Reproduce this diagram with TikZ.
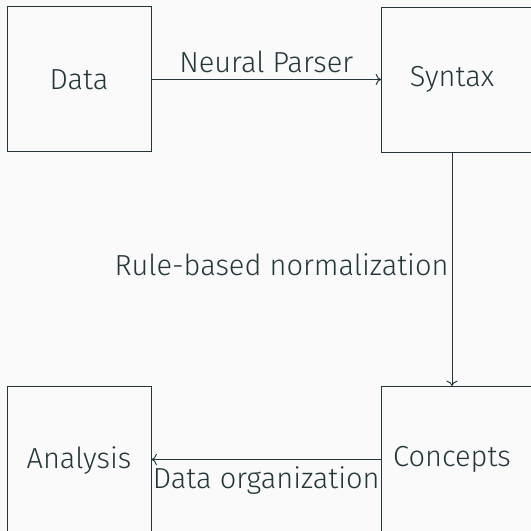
\documentclass[tikz,border=0pt]{standalone}
\usepackage{fontspec}
\setmainfont{Fira Sans}[UprightFont=* Light]
\usetikzlibrary{arrows.meta,positioning}
\definecolor{darkteal}{RGB}{35,55,59}
\definecolor{paper}{RGB}{250,250,250}

\begin{document}
\begin{tikzpicture}[x=1pt,y=1pt,
    every node/.style={text=darkteal,font=\fontsize{14.5}{17}\selectfont},
    box/.style={draw=darkteal,line width=0.5pt,minimum width=72pt,minimum height=72.5pt,inner sep=0pt},
    flow/.style={draw=darkteal,line width=0.5pt,->}]
  \fill[paper] (0,0) rectangle (265.5,265.5);
  \useasboundingbox (0,0) rectangle (265.5,265.5);
  % the four stages; the right column runs off the page
  \node[box] (data) at (39.5,225.75) {Data};
  \node[box,minimum width=90pt,anchor=north west] (syntax) at (190.5,262) {};
  \node (syntaxtxt) at (226,225.75) {Syntax};
  \node[box,minimum height=74pt,anchor=north] (analysis) at (39.5,72.5) {Analysis};
  \node[box,minimum width=90pt,minimum height=74pt,anchor=north west] (concepts) at (190.5,72.5) {};
  \node (conceptstxt) at (226,35.75) {Concepts};
  % transitions
  \draw[flow] (data.east) -- (data.east -| syntax.west) node[midway,above] {Neural Parser};
  \draw[flow] (syntaxtxt |- syntax.south) -- (syntaxtxt |- concepts.north)
    node[pos=0.48,left,inner sep=1.5pt] {Rule-based normalization};
  \draw[flow] (conceptstxt -| concepts.west) -- (conceptstxt -| analysis.east) node[midway,below] {Data organization};
\end{tikzpicture}
\end{document}
